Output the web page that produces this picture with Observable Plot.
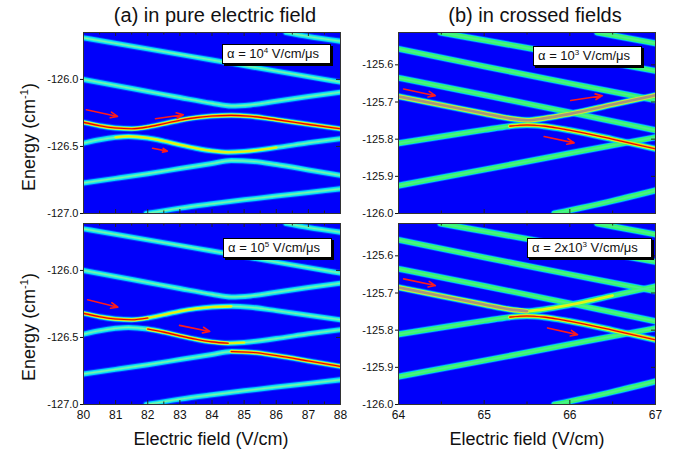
<!DOCTYPE html>
<html><head><meta charset="utf-8">
<script src="https://cdn.jsdelivr.net/npm/d3@7"></script>
<script src="https://cdn.jsdelivr.net/npm/@observablehq/plot@0.6"></script>
<style>
body{margin:0;background:#fff;font-family:"Liberation Sans",Arial,sans-serif;}
#wrap{position:relative;width:677px;height:456px;overflow:hidden;background:#fff;}
.abs{position:absolute;white-space:nowrap;color:#111;}
.title{font-size:20px;line-height:20px;transform:translateX(-50%);}
.xlab{font-size:18px;line-height:20px;transform:translateX(-50%);}
.ylab{font-size:18px;line-height:20px;transform:translate(-50%,-50%) rotate(-90deg);}
.ylab sup{font-size:11px;vertical-align:7px;line-height:0;}
.box{font-size:13px;line-height:18px;background:#fff;border:1px solid #000;box-shadow:2px 2px 0 #000;padding:0 4px;box-sizing:border-box;height:20px;}
.box sup{font-size:8px;vertical-align:5px;line-height:0;}
</style></head><body><div id="wrap"></div>
<script>
// ---------- tick values ----------
const xTicksA = [80,81,82,83,84,85,86,87,88];
const xMinorA = [80.5,81.5,82.5,83.5,84.5,85.5,86.5,87.5];
const xTicksB = [64,65,66,67];
const xMinorB = [64.5,65.5,66.5];
const yTicksA = [-127.0,-126.5,-126.0];
const yTicksB = [-126.0,-125.9,-125.8,-125.7,-125.6];

// ---------- (a) pure electric field: energy levels [E (V/cm), energy (cm^-1)] ----------
const pureTop = [[86.3,-125.65],[87,-125.68],[88,-125.715]];
const pureA = [[80,-125.69],[82,-125.772],[84,-125.855],[86,-125.938],[88,-126.02]];
const pureC = [[80,-126.0],[81,-126.045],[82,-126.09],[83,-126.135],[84,-126.178],[84.6,-126.198],[85.2,-126.19],[86,-126.163],[87,-126.128],[88,-126.095]];
const pureD = [[80,-126.32],[80.5,-126.345],[81,-126.362],[81.5,-126.368],[82,-126.355],[82.5,-126.33],[83,-126.305],[83.5,-126.285],[84,-126.273],[84.6,-126.268],[85.2,-126.275],[86,-126.3],[87,-126.335],[88,-126.368]];
const pureE = [[80,-126.475],[80.5,-126.45],[81,-126.432],[81.4,-126.425],[82,-126.437],[82.5,-126.46],[83,-126.488],[83.5,-126.513],[84,-126.533],[84.5,-126.543],[85,-126.538],[86,-126.508],[87,-126.473],[88,-126.442]];
const pureF = [[80,-126.772],[81,-126.738],[82,-126.703],[83,-126.665],[84,-126.627],[84.6,-126.605],[85.3,-126.612],[86,-126.635],[87,-126.675],[88,-126.716]];
const pureG = [[81.95,-127.0],[83,-126.96],[84,-126.928],[85,-126.898],[86,-126.87],[87,-126.843],[88,-126.816]];

// ---------- (b) crossed fields ----------
const crossTop = [[66.32,-125.513],[67,-125.542]];
const cross0 = [[64.49,-125.513],[65,-125.534],[66,-125.575],[67,-125.616]];
const cross1 = [[64,-125.557],[65,-125.604],[66,-125.65],[67,-125.695]];
const cross2 = [[64,-125.635],[65,-125.681],[66,-125.728],[67,-125.776]];
const crossUp = [[64,-125.685],[64.5,-125.708],[65,-125.731],[65.3,-125.744],[65.5,-125.749],[65.7,-125.744],[66,-125.732],[66.5,-125.707],[67,-125.682]];
const crossLo = [[64,-125.811],[64.5,-125.793],[65,-125.775],[65.3,-125.765],[65.5,-125.762],[65.7,-125.765],[66,-125.776],[66.5,-125.8],[67,-125.826]];
const cross5 = [[64,-125.925],[65,-125.882],[66,-125.838],[67,-125.795]];
const cross6 = [[65.82,-126.0],[66.5,-125.966],[67,-125.938]];

// ---------- populated segments: [level, from E, to E, intensity] ----------
const hlA4 = [["D",80,88,"red"],["E",81,86,"yellow"]];
const hlA5 = [["D",80,82,"red"],["D",82,84.6,"yellow"],["E",81.5,84.5,"red"],["E",84.5,85.5,"yellow"],["F",84.6,88,"red"]];
const hlB3 = [["Up",64,67,"gray"],["Lo",65.3,67,"red"]];
const hlB2 = [["Up",64,65.5,"gray"],["Up",65.5,66.5,"yellow"],["Lo",65.3,67,"red"]];

// ---------- red arrows: [E1, y1, E2, y2] ----------
const arrowsA4 = [[80.09,-126.226,81.06,-126.276],[82.24,-126.293,83.11,-126.263],[82.15,-126.513,82.61,-126.535]];
const arrowsA5 = [[80.13,-126.219,81.07,-126.274],[82.99,-126.41,83.93,-126.455]];
const arrowsB3 = [[64.06,-125.665,64.43,-125.683],[66.01,-125.696,66.38,-125.683],[65.7,-125.793,66.05,-125.81]];
const arrowsB2 = [[64.06,-125.662,64.43,-125.68],[65.74,-125.794,66.09,-125.812]];

// ---------- texts ----------
const rateLabels = ["α = 10<sup>4</sup> V/cm/μs","α = 10<sup>5</sup> V/cm/μs","α = 10<sup>3</sup> V/cm/μs","α = 2x10<sup>3</sup> V/cm/μs"];
const titles = ["(a) in pure electric field","(b) in crossed fields"];
const xLabel = "Electric field (V/cm)";
const yLabel = "Energy (cm<sup>-1</sup>)";

const pureLevels = [["T",pureTop],["A",pureA],["C",pureC],["D",pureD],["E",pureE],["F",pureF],["G",pureG]];
const crossLevels = [["T",crossTop],["L0",cross0],["L1",cross1],["L2",cross2],["Up",crossUp],["Lo",crossLo],["L5",cross5],["L6",cross6]];

const baseStyles = {
  a: [["#0060ff",7,0.55],["#00d4ff",5,1],["#30eed8",3,1],["#78f4a8",1.2,1]],
  b: [["#0070ff",7.5,0.55],["#00ccff",6,1],["#38f868",4.4,1],["#48f08c",1.6,1]]
};
const hlStyles = {
  red: [["#d8ff30",3.6],["#ff9800",2.2],["#e40000",1.1]],
  gray: [["#a0ff40",4.6],["#d8e040",3.6],["#a8967c",2.6]],
  yellow: [["#c8ff30",2.6],["#f8e800",1.0]]
};

const wrap = document.getElementById("wrap");
const W = 257, H = 181, ML = 45, MR = 5, MT = 5;

function panel(o){
  const levelMap = new Map(o.levels);
  const rows = o.levels.flatMap(([name,pts]) => pts.map(([E,v]) => ({name,E,v})));
  const hrows = o.hl.flatMap(([name,a,b,st],i) => levelMap.get(name)
      .filter(([E]) => E >= a-1e-9 && E <= b+1e-9).map(([E,v]) => ({id:i,st,E,v})));
  const MB = o.showX ? 22 : 5;
  const marks = [Plot.frame({fill:"#0000fa"})];
  for (const [c,w,op] of baseStyles[o.kind]) {
    marks.push(Plot.line(rows,{x:"E",y:"v",z:"name",stroke:c,strokeWidth:w,strokeOpacity:op,curve:"monotone-x",clip:true}));
  }
  for (const st of ["yellow","gray","red"]) {
    const sub = hrows.filter(d => d.st === st);
    for (const [c,w] of hlStyles[st]) {
      marks.push(Plot.line(sub,{x:"E",y:"v",z:"id",stroke:c,strokeWidth:w,strokeLinecap:"round",curve:"monotone-x",clip:true}));
    }
  }
  marks.push(Plot.arrow(o.arrows,{x1:d=>d[0],y1:d=>d[1],x2:d=>d[2],y2:d=>d[3],stroke:"#ff1a1a",strokeWidth:1.6,headLength:7,headAngle:45}));
  // inward ticks
  const tk = {stroke:"#222",strokeWidth:1};
  marks.push(Plot.tickX(o.xTicks,{x:d=>d,insetTop:H-4,...tk}));
  marks.push(Plot.tickX(o.xTicks,{x:d=>d,insetBottom:H-4,...tk}));
  marks.push(Plot.tickX(o.xMinor,{x:d=>d,insetTop:H-2.5,...tk}));
  marks.push(Plot.tickX(o.xMinor,{x:d=>d,insetBottom:H-2.5,...tk}));
  marks.push(Plot.tickY(o.yTicks,{y:d=>d,insetLeft:W-4,...tk}));
  marks.push(Plot.frame({stroke:"#333",strokeWidth:1}));
  marks.push(Plot.axisY({ticks:o.yTicks,tickFormat:d=>d.toFixed(1),tickSize:3,tickPadding:2,fontSize:11,label:null}));
  if (o.showX) marks.push(Plot.axisX({ticks:o.xTicks,tickFormat:d=>String(d),tickSize:0,tickPadding:6,fontSize:12,label:null}));
  else marks.push(Plot.axisX({ticks:[],label:null}));
  const svg = Plot.plot({
    width: ML+W+MR, height: MT+H+MB,
    marginLeft: ML, marginRight: MR, marginTop: MT, marginBottom: MB,
    x:{domain:o.xDomain}, y:{domain:o.yDomain},
    style:{background:"transparent",fontFamily:"'Liberation Sans',Arial,sans-serif",color:"#111",overflow:"visible"},
    marks
  });
  svg.style.position = "absolute";
  svg.style.left = (o.left-ML)+"px";
  svg.style.top = (o.top-MT)+"px";
  wrap.appendChild(svg);
}

panel({levels:pureLevels,kind:"a",hl:hlA4,arrows:arrowsA4,xDomain:[80,88],yDomain:[-127,-125.65],xTicks:xTicksA,xMinor:xMinorA,yTicks:yTicksA,showX:false,left:83,top:32});
panel({levels:pureLevels,kind:"a",hl:hlA5,arrows:arrowsA5,xDomain:[80,88],yDomain:[-127,-125.65],xTicks:xTicksA,xMinor:xMinorA,yTicks:yTicksA,showX:true,left:83,top:223});
panel({levels:crossLevels,kind:"b",hl:hlB3,arrows:arrowsB3,xDomain:[64,67],yDomain:[-126,-125.513],xTicks:xTicksB,xMinor:xMinorB,yTicks:yTicksB,showX:false,left:398,top:32});
panel({levels:crossLevels,kind:"b",hl:hlB2,arrows:arrowsB2,xDomain:[64,67],yDomain:[-126,-125.513],xTicks:xTicksB,xMinor:xMinorB,yTicks:yTicksB,showX:true,left:398,top:223});

function addDiv(cls, html, x, y, extra){
  const d = document.createElement("div");
  d.className = "abs " + cls;
  d.innerHTML = html;
  d.style.left = x+"px"; d.style.top = y+"px";
  if (extra) Object.assign(d.style, extra);
  wrap.appendChild(d);
}
addDiv("title", titles[0], 215, 5);
addDiv("title", titles[1], 535, 5);
addDiv("ylab", yLabel, 29, 137);
addDiv("ylab", yLabel, 29, 327);
addDiv("xlab", xLabel, 211, 429);
addDiv("xlab", xLabel, 527, 429);
addDiv("box", rateLabels[0], 222, 44, {width:"109px"});
addDiv("box", rateLabels[1], 223, 238, {width:"109px"});
addDiv("box", rateLabels[2], 533, 46, {width:"109px"});
addDiv("box", rateLabels[3], 527, 238, {width:"125px"});
</script></body></html>
